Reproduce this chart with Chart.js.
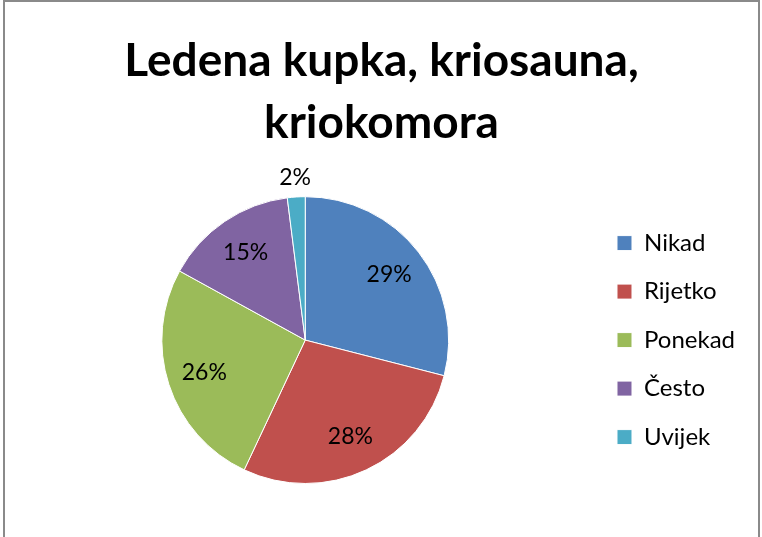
<!DOCTYPE html>
<html>
<head>
<meta charset="utf-8">
<script src="https://cdn.jsdelivr.net/npm/chart.js@4"></script>
<style>
  html, body { margin: 0; padding: 0; background: #fff; }
  #frame { position: absolute; left: 3px; top: 0; width: 753px; height: 600px;
           border: 2px solid #8a8a8a; border-bottom: none; }
  #wrap { position: absolute; left: 0; top: 0; width: 762px; height: 537px; }
</style>
</head>
<body>
<div id="frame"></div>
<div id="wrap"><canvas id="pieChart" width="762" height="537"></canvas></div>
<script>
const categories = ['Nikad', 'Rijetko', 'Ponekad', 'Često', 'Uvijek'];
const values = [29, 28, 26, 15, 2];
const colors = ['#4F81BD', '#C0504D', '#9BBB59', '#8064A2', '#4BACC6'];
const titleLines = ['Ledena kupka, kriosauna,', 'kriokomora'];

const fontName = 'Lato, "Liberation Sans", sans-serif';

// percentage labels, inside big slices, outside small ones
const pctLabels = {
  id: 'pctLabels',
  afterDatasetsDraw(chart) {
    const ctx = chart.ctx;
    const total = values.reduce((a, b) => a + b, 0);
    const arcs = chart.getDatasetMeta(0).data;
    ctx.save();
    ctx.font = '23px ' + fontName;
    ctx.fillStyle = '#000';
    ctx.textAlign = 'center';
    ctx.textBaseline = 'middle';
    arcs.forEach((arc, i) => {
      const p = arc.getProps(['x', 'y', 'startAngle', 'endAngle', 'outerRadius'], true);
      const mid = (p.startAngle + p.endAngle) / 2;
      const pct = values[i] / total * 100;
      const r = pct < 5 ? p.outerRadius + 19 : p.outerRadius * 0.74;
      ctx.fillText(Math.round(pct) + '%', p.x + Math.cos(mid) * r, p.y + Math.sin(mid) * r);
    });
    ctx.restore();
  }
};

const ctx = document.getElementById('pieChart').getContext('2d');

const myChart = new Chart(ctx, {
  type: 'pie',
  data: {
    labels: categories,
    datasets: [{
      data: values,
      backgroundColor: colors,
      borderColor: '#ffffff',
      borderWidth: 1
    }]
  },
  options: {
    responsive: false,
    animation: false,
    layout: {
      padding: { left: 18, right: 17, top: 0, bottom: 53 }
    },
    plugins: {
      title: {
        display: true,
        text: titleLines,
        color: '#000',
        font: { family: fontName, size: 46, weight: 'bold', lineHeight: 1.35 },
        padding: { top: 30, bottom: 42 }
      },
      legend: {
        position: 'right',
        align: 'center',
        fullSize: false,
        labels: {
          color: '#000',
          font: { family: fontName, size: 24 },
          boxWidth: 15,
          boxHeight: 15,
          padding: 24.5
        }
      },
      tooltip: { enabled: false }
    }
  },
  plugins: [pctLabels]
});
</script>
</body>
</html>
